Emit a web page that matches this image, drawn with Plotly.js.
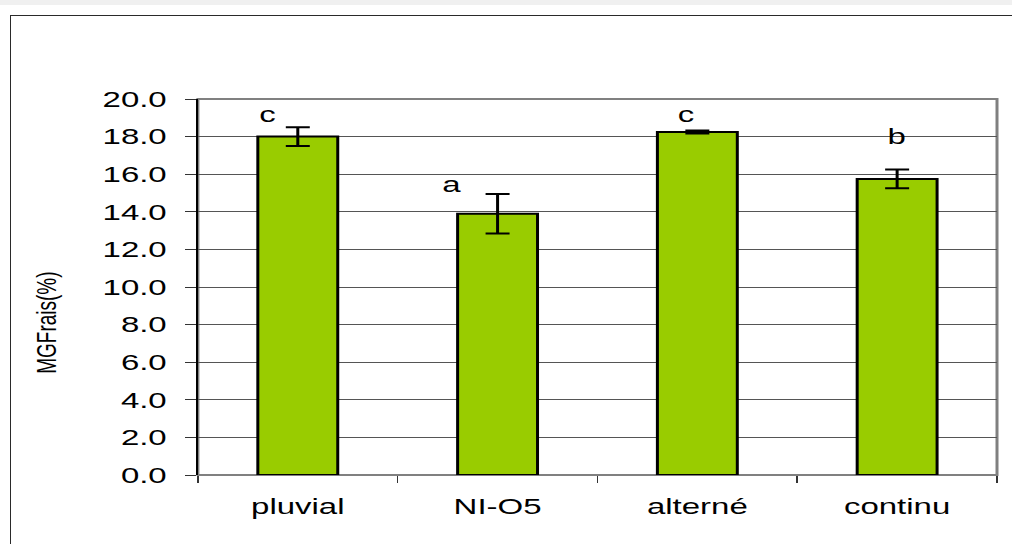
<!DOCTYPE html>
<html>
<head>
<meta charset="utf-8">
<script src="https://cdn.plot.ly/plotly-3.0.1.min.js"></script>
<style>
  html, body { margin: 0; padding: 0; background: #ffffff; }
  #page { position: relative; width: 1012px; height: 544px; overflow: hidden; background: #ffffff; }
  #band { position: absolute; left: 0; top: 0; width: 1012px; height: 5px; background: #f0f0f0; }
  #frame { position: absolute; left: 10px; top: 15px; width: 1010px; height: 540px;
           border-left: 1.5px solid #2a2a2a; border-top: 1.5px solid #2a2a2a; }
  /* the chart is laid out narrow and widened horizontally, giving the broad lettering */
  #chart { position: absolute; left: 0; top: 0; width: 675px; height: 544px;
           transform: scale(1.49926, 1); transform-origin: 0 0; }
</style>
</head>
<body>
<div id="page">
  <div id="band"></div>
  <div id="frame"></div>
  <div id="chart"></div>
</div>
<script>
// Irrigation treatments and mean fresh-matter content (%) with standard errors
const categories = ['pluvial', 'NI-O5', 'alterné', 'continu'];
const means = [18.0, 13.9, 18.25, 15.75];
const errors = [0.5, 1.05, 0.08, 0.5];
// statistical grouping letters shown above each bar
const groupLetters = ['c', 'a', 'c', 'b'];
// where each letter sits: [x offset in category units, y value]
const letterPlacement = [[-0.15, 19.2], [-0.23, 15.45], [-0.06, 19.2], [0.0, 18.0]];
const yTickValues = [0, 2, 4, 6, 8, 10, 12, 14, 16, 18, 20];

const FONT = 'Liberation Sans, Arial, sans-serif';

const trace = {
  type: 'bar',
  x: categories,
  y: means,
  width: 0.4,
  marker: { color: '#99cc00', line: { color: '#000000', width: 2 } },
  error_y: { type: 'data', array: errors, visible: true, color: '#000000', thickness: 2, width: 8 },
  hoverinfo: 'skip'
};

const annotations = groupLetters.map((t, i) => ({
  text: t,
  x: i + letterPlacement[i][0],
  y: letterPlacement[i][1],
  xref: 'x', yref: 'y',
  showarrow: false,
  xanchor: 'center', yanchor: 'middle',
  font: { family: FONT, size: 22, color: '#000000' }
}));

annotations.push({
  text: 'MGFrais(%)',
  xref: 'paper', yref: 'paper',
  x: -0.19, y: 0.404,
  textangle: -90,
  showarrow: false,
  xanchor: 'center', yanchor: 'middle',
  font: { family: FONT, size: 19, color: '#000000' }
});

const layout = {
  width: 675,
  height: 544,
  margin: { l: 132, r: 10, t: 99, b: 69, pad: 0 },
  paper_bgcolor: 'rgba(0,0,0,0)',
  plot_bgcolor: '#ffffff',
  showlegend: false,
  bargap: 0.6,
  font: { family: FONT, size: 22, color: '#000000' },
  xaxis: {
    type: 'category',
    categoryorder: 'array',
    categoryarray: categories,
    showgrid: false,
    zeroline: false,
    showline: false,
    ticks: 'outside',
    tickson: 'boundaries',
    ticklen: 7,
    tickwidth: 1,
    tickcolor: '#333333',
    tickfont: { family: FONT, size: 22, color: '#000000' },
    ticklabelstandoff: 16,
    fixedrange: true
  },
  yaxis: {
    range: [0, 20],
    tickvals: yTickValues,
    tickformat: '.1f',
    showgrid: true,
    gridcolor: '#555555',
    gridwidth: 1,
    zeroline: false,
    showline: true,
    linecolor: '#000000',
    linewidth: 1.4,
    ticks: 'outside',
    ticklen: 7,
    tickwidth: 1,
    tickcolor: '#333333',
    tickfont: { family: FONT, size: 22, color: '#000000' },
    ticklabelstandoff: 8,
    fixedrange: true
  },
  shapes: [{
    type: 'rect', xref: 'paper', yref: 'paper',
    x0: 0, x1: 1, y0: 0, y1: 1,
    line: { color: '#808080', width: 2 },
    layer: 'below'
  }],
  annotations: annotations
};

Plotly.newPlot('chart', [trace], layout, { displayModeBar: false, responsive: false, staticPlot: true });
</script>
</body>
</html>
